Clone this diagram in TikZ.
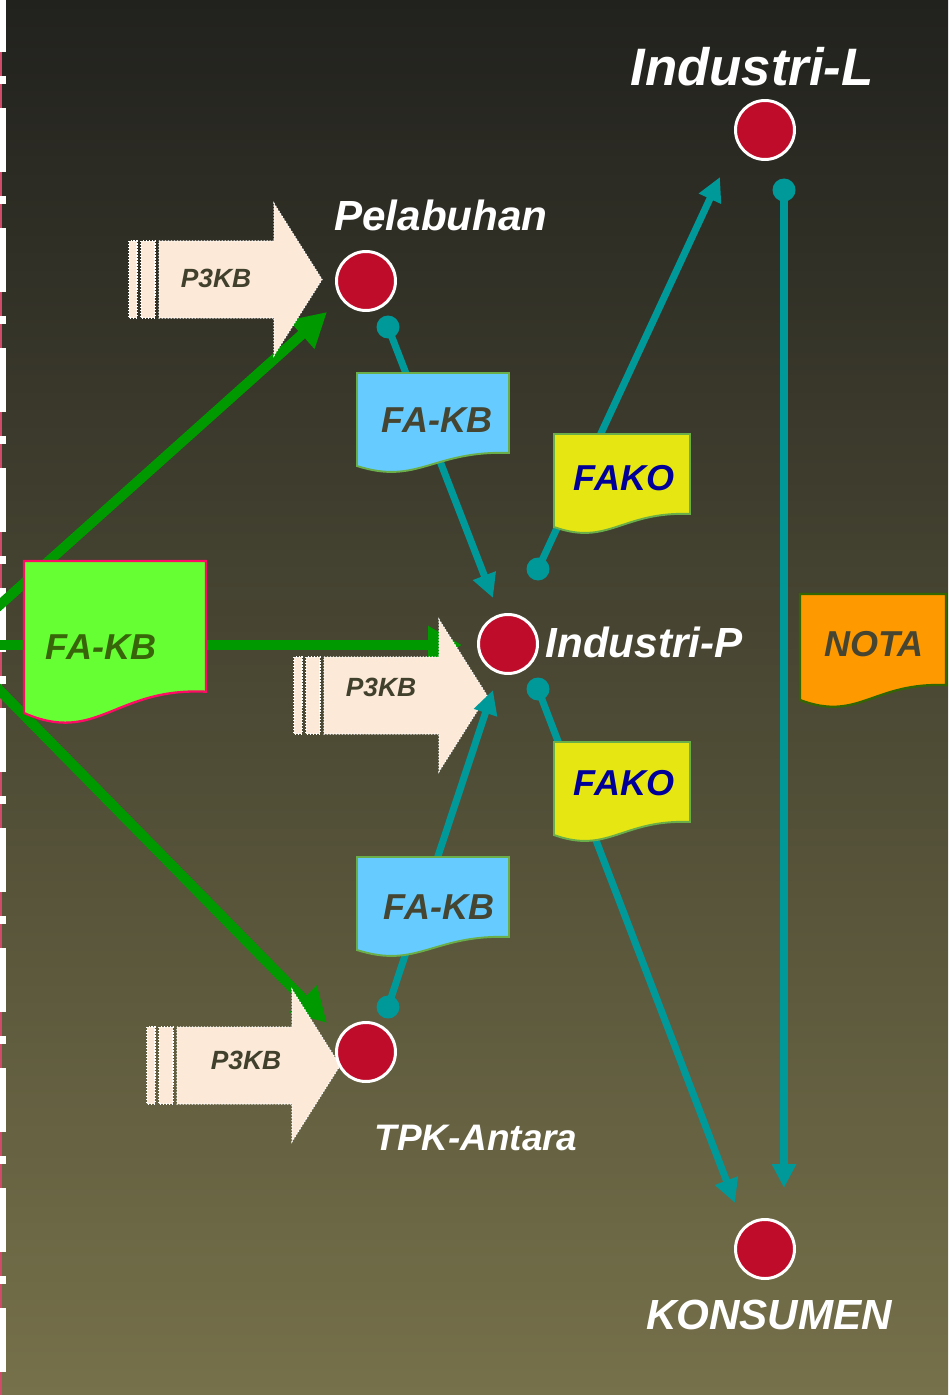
\documentclass[tikz,border=0pt]{standalone}
\usepackage{fontspec}
\setmainfont{Liberation Sans}
\usepackage{tikz}
\usetikzlibrary{arrows.meta,positioning}
\definecolor{bgtop}{RGB}{33,33,30}
\definecolor{bgbot}{RGB}{118,113,74}
\definecolor{sitered}{RGB}{190,12,42}
\definecolor{tealc}{RGB}{0,153,153}
\definecolor{greenc}{RGB}{0,153,0}
\definecolor{stripink}{RGB}{208,74,106}
\definecolor{pkfill}{RGB}{252,233,216}
\definecolor{pkink}{RGB}{64,64,44}
\definecolor{inkdark}{RGB}{69,69,50}
\definecolor{fakoblue}{RGB}{0,0,153}
\definecolor{fakbgreen}{RGB}{56,100,10}
\definecolor{docedge}{RGB}{106,174,74}
\newcommand{\docshape}[5]{\draw[#1] (#2,#3) -- (#2+#4,#3) -- (#2+#4,#3+0.86*#5) .. controls (#2+0.5*#4,#3+0.83*#5) and (#2+0.4*#4,#3+1.21*#5) .. (#2,#3+#5) -- cycle;}

\begin{document}
\begin{tikzpicture}[x=0.02cm, y=-0.02cm,
  site/.style={circle,fill=sitered,draw=white,line width=1.7pt,minimum size=1.18cm,inner sep=0pt},
  pin/.style={circle,fill=tealc,minimum size=0.46cm,inner sep=0pt},
  flow/.style={tealc,line width=4pt,-{Triangle[length=0.48cm,width=0.46cm]}},
  feed/.style={greenc,line width=5.7pt,-{Triangle[length=0.68cm,width=0.72cm]}},
  place/.style={text=white,font=\bfseries\itshape\fontsize{24}{28}\selectfont},
  doctxt/.style={font=\bfseries\itshape\fontsize{20.5}{24}\selectfont},
  pktxt/.style={text=pkink,font=\bfseries\itshape\fontsize{15}{18}\selectfont},
  pkbox/.style={fill=pkfill,draw=white,densely dotted,line width=0.7pt},
  pkarrow/.pic={
    \path[pkbox] (0,-38.5) rectangle (8,38.5);
    \path[pkbox] (12,-38.5) rectangle (26,38.5);
    \path[pkbox] (30,-38.5) -- (145,-38.5) -- (145,-76) -- (193,0) -- (145,76) -- (145,38.5) -- (30,38.5) -- cycle;
  }]
  \clip (0,0) rectangle (948,1395);
  \shade[top color=bgtop,bottom color=bgbot] (0,0) rectangle (948,1395);
  \foreach \k in {0,...,11} {
    \fill[white] (0,-12+120*\k) rectangle (6,52+120*\k);
    \fill[stripink] (0,52+120*\k) rectangle (2,108+120*\k);
    \fill[white] (0,76+120*\k) rectangle (6,84+120*\k);
  }

  \coordinate (src) at (-45,645);
  \coordinate (gPel) at (327,312);
  \coordinate (gInd) at (462,645);
  \coordinate (gTpk) at (327,1023);
  \draw[feed] (src) -- (gPel);
  \draw[feed] (src) -- (gInd);
  \draw[feed] (src) -- (gTpk);
  \docshape{fill={rgb,255:red,102;green,255;blue,51},draw={rgb,255:red,255;green,10;blue,100},line width=1.3pt}{24}{561}{182}{152}

  \pic at (129,279.5) {pkarrow};
  \pic at (294,695.5) {pkarrow};
  \pic at (147,1065.5) {pkarrow};

  \node[pin] (pPel) at (388,327) {};
  \node[pin] (pIPu) at (538,569) {};
  \node[pin] (pIPd) at (538,689) {};
  \node[pin] (pTpk) at (388,1007) {};
  \node[pin] (pIndL) at (784,190) {};
  \coordinate (tPI) at (493,598);
  \coordinate (tIL) at (720,177);
  \coordinate (tK1) at (735,1203);
  \coordinate (tTI) at (493,690);
  \coordinate (tK2) at (784,1188);
  \draw[flow] (pPel.center) -- (tPI);
  \draw[flow] (pIPu.center) -- (tIL);
  \draw[flow] (pIPd.center) -- (tK1);
  \draw[flow] (pTpk.center) -- (tTI);
  \draw[flow] (pIndL.center) -- (tK2);

  \docshape{fill={rgb,255:red,102;green,204;blue,255},draw=docedge,line width=1.1pt}{357}{373}{152}{93}
  \docshape{fill={rgb,255:red,102;green,204;blue,255},draw=docedge,line width=1.1pt}{357}{857}{152}{93}
  \docshape{fill={rgb,255:red,230;green,230;blue,18},draw=docedge,line width=1.1pt}{554}{434}{136}{93}
  \docshape{fill={rgb,255:red,230;green,230;blue,18},draw=docedge,line width=1.1pt}{554}{742}{136}{93}
  \docshape{fill={rgb,255:red,255;green,153;blue,0},draw={rgb,255:red,51;green,102;blue,0},line width=1.3pt}{800}{594}{146}{106}

  \node[site] (indL) at (765,130) {};
  \node[site] (pel) at (366,281) {};
  \node[site] (indP) at (508,644) {};
  \node[site] (tpk) at (366,1052) {};
  \node[site] (kon) at (765,1249) {};

  \node[place,font=\bfseries\itshape\fontsize{30}{34}\selectfont] (lIndL) at (752,67) {Industri-L};
  \node[place] (lPel) at (441,215) {Pelabuhan};
  \node[place] (lIndP) at (644,642) {Industri-P};
  \node[place,font=\bfseries\itshape\fontsize{21}{25}\selectfont] (lTpk) at (476,1138) {TPK-Antara};
  \node[place] (lKon) at (769,1315) {KONSUMEN};

  \node[doctxt,text=fakbgreen] (dMain) at (101,647) {FA-KB};
  \node[doctxt,text=inkdark] (dPel) at (437,420) {FA-KB};
  \node[doctxt,text=fakoblue] (dUp) at (624,478) {FAKO};
  \node[doctxt,text=fakoblue] (dDown) at (624,783) {FAKO};
  \node[doctxt,text=inkdark] (dTpk) at (439,907) {FA-KB};
  \node[doctxt,text=inkdark] (dNota) at (874,644) {NOTA};

  \node[pktxt] (kPel) at (216,278) {P3KB};
  \node[pktxt] (kInd) at (381,687) {P3KB};
  \node[pktxt] (kTpk) at (246,1060) {P3KB};
\end{tikzpicture}
\end{document}
